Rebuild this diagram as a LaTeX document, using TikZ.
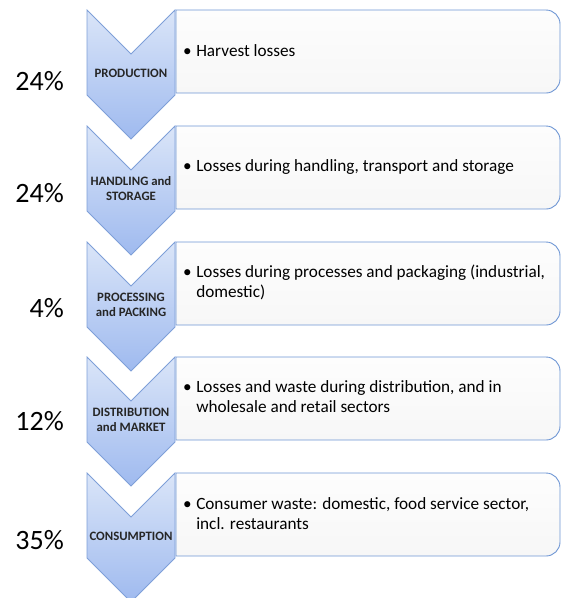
\documentclass[tikz,border=0pt]{standalone}
\usepackage{fontspec}
\setmainfont{Carlito}
\definecolor{chevtop}{HTML}{DAE5F8}
\definecolor{chevbot}{HTML}{9FBAEF}
\definecolor{chevline}{HTML}{7E9FD8}
\definecolor{boxline}{HTML}{6E96D4}
\definecolor{boxfill}{HTML}{FDFDFD}
\definecolor{boxfill2}{HTML}{F7F7F7}
\tikzset{
  chev/.style={draw=chevline, line width=0.8pt, top color=chevtop, bottom color=chevbot, line join=miter},
  panel/.style={draw=boxline, line width=0.9pt, top color=boxfill, bottom color=boxfill2},
  stagelbl/.style={font=\fontsize{12.8}{15}\selectfont\bfseries, align=center, text=black!85},
  desc/.style={font=\fontsize{17.2}{20}\selectfont, anchor=west, inner sep=0pt, text=black},
  pct/.style={font=\fontsize{28}{32}\selectfont, anchor=east, inner sep=0pt, text=black}
}
\newcommand{\bul}[2]{\begin{tabular}{@{}l@{\hspace{4.5pt}}l@{}}\textbullet & #1\\#2\end{tabular}}
\begin{document}
\begin{tikzpicture}[x=1pt,y=-1pt]
\useasboundingbox (0,0) rectangle (562,598);
\foreach \i/\T in {0/10,1/126,2/242,3/357,4/473}{
  \path[panel] (176,\T) -- (546,\T) arc[start angle=-90,end angle=0,radius=14]
     -- (560,\T+69) arc[start angle=0,end angle=90,radius=14] -- (176,\T+83) -- cycle;
  \path[chev] (87,\T) -- (131,\T+44) -- (175,\T) -- (175,\T+85) -- (131,\T+129) -- (87,\T+85) -- cycle;
}
\node[stagelbl] (s1) at (131,73) {PRODUCTION};
\node[stagelbl] (s2) at (131,189) {HANDLING and\\STORAGE};
\node[stagelbl] (s3) at (131,305) {PROCESSING\\and PACKING};
\node[stagelbl] (s4) at (131,420) {DISTRIBUTION\\and MARKET};
\node[stagelbl] (s5) at (131,536) {CONSUMPTION};

\node[desc] (d1) at (183,52) {\bul{Harvest losses}{}};
\node[desc] (d2) at (183,167) {\bul{Losses during handling, transport and storage}{}};
\node[desc] (d3) at (183,283) {\bul{Losses during processes and packaging (industrial,}{& domestic)}};
\node[desc] (d4) at (183,398) {\bul{Losses and waste during distribution, and in}{& wholesale and retail sectors}};
\node[desc] (d5) at (183,515) {\bul{Consumer waste: domestic, food service sector,}{& incl. restaurants}};

\node[pct] (p1) at (64,81) {24\%};
\node[pct] (p2) at (64,193) {24\%};
\node[pct] (p3) at (64,308) {4\%};
\node[pct] (p4) at (64,421) {12\%};
\node[pct] (p5) at (64,540) {35\%};
\end{tikzpicture}
\end{document}
